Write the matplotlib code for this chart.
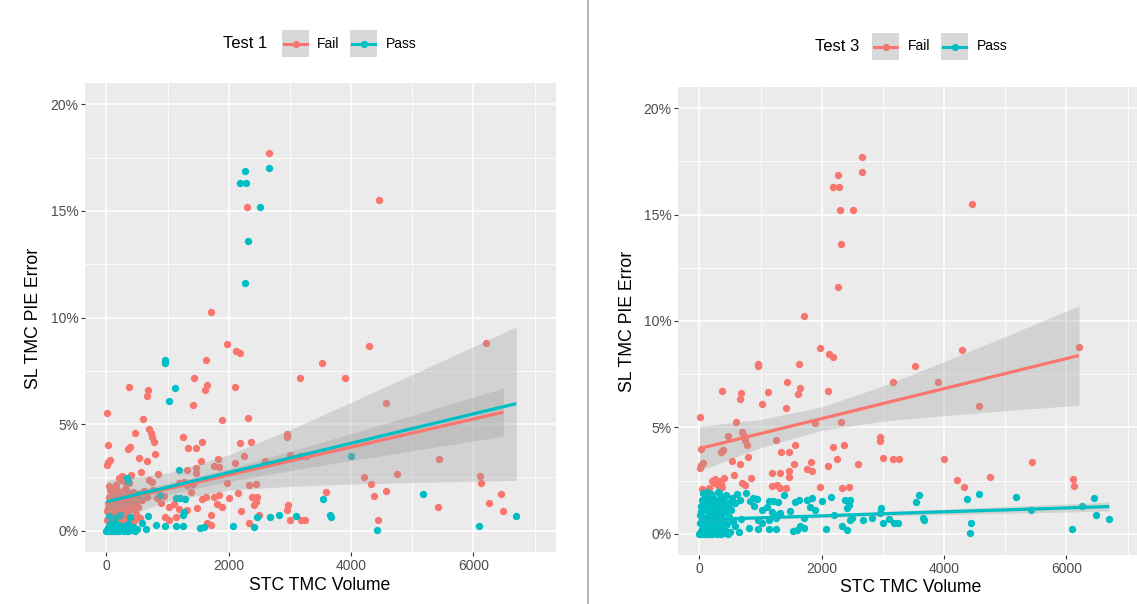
import numpy as np
import matplotlib.pyplot as plt
from matplotlib.lines import Line2D
from matplotlib.patches import Rectangle

plt.rcParams['font.family'] = ['Liberation Sans', 'DejaVu Sans']

W, H = 1137, 604
FAIL = '#F8766D'
PASS = '#00BFC4'
PANEL = '#EBEBEB'
RIBBON = '#999999'
KEY = '#D8D8D8'

# STC TMC volume and SL TMC PIE error (%) per item
volume = [
    2660, 2660, 2270, 2180, 2290, 2300, 2505, 4455, 2310, 2270,
    1705, 1975, 2125, 2190, 965, 955, 1620, 3165, 1440, 375,
    675, 660, 1120, 1640, 1605, 2095, 1025, 1420, 15, 600,
    1890, 2310, 3530, 4285, 3895, 6205, 4570, 690, 725, 465,
    770, 745, 20, 390, 355, 1245, 1570, 1340, 1460, 2180,
    2370, 20, 60, 10, 535, 670, 790, 850, 560, 690,
    740, 1190, 1325, 1460, 1470, 1540, 1825, 1760, 1840, 2100,
    2250, 2590, 2950, 2960, 3000, 3165, 3270, 1180, 1270, 1325,
    1415, 1965, 2330, 2440, 205, 260, 340, 355, 300, 150,
    45, 370, 235, 395, 3995, 4215, 4320, 4755, 5435, 6105,
    6130, 3590, 3545, 3650, 3675, 4380, 4570, 4445, 4420, 5170,
    5425, 6090, 6250, 6445, 6485, 6700, 3240, 669, 680, 650,
    833, 880, 945, 898, 1135, 1210, 1280, 1024, 1105, 1187,
    1268, 1322, 958, 1024, 1131, 1250, 805, 952, 1131, 1250,
    1567, 1621, 1758, 1840, 2003, 1894, 1703, 1529, 1595, 1649,
    1714, 2069, 2330, 2411, 2384, 2465, 2438, 2411, 2465, 2493,
    2672, 2820, 2975, 3000, 3100, 3175, 2960, 1380, 1480, 1800,
    2200, 2150, 760, 560, 590, 0, 10, 20, 30, 42,
    52, 62, 75, 88, 100, 112, 125, 140, 160, 176,
    190, 210, 230, 250, 270, 290, 310, 330, 350, 380,
    410, 440, 470, 505, 5, 15, 25, 35, 45, 55,
    65, 80, 90, 105, 115, 130, 145, 155, 170, 185,
    200, 215, 225, 240, 255, 265, 280, 295, 305, 320,
    335, 345, 360, 375, 390, 405, 420, 435, 450, 460,
    480, 495, 520, 540, 555, 580, 620, 70, 120, 160,
    200, 250, 280, 320, 30, 130, 210, 360, 100, 190,
]
pie_error = [
    17.7, 17.0, 16.85, 16.3, 16.3, 15.2, 15.2, 15.5, 13.6, 11.6,
    10.25, 8.75, 8.45, 8.33, 8.0, 7.88, 8.0, 7.15, 7.15, 6.72,
    6.6, 6.34, 6.67, 6.83, 6.58, 6.72, 6.1, 5.9, 5.5, 5.23,
    5.2, 5.27, 7.87, 8.64, 7.15, 8.8, 6.0, 4.76, 4.6, 4.6,
    4.18, 4.4, 4.0, 3.94, 3.82, 4.41, 4.18, 3.86, 3.86, 4.1,
    4.18, 3.24, 3.32, 3.08, 3.4, 3.27, 3.6, 2.64, 2.77, 2.38,
    2.27, 2.85, 2.85, 2.93, 2.69, 3.27, 3.35, 3.04, 2.97, 3.19,
    3.5, 3.29, 4.54, 4.38, 3.55, 3.5, 3.5, 2.25, 2.3, 2.14,
    2.17, 2.22, 2.14, 2.19, 2.46, 2.57, 2.48, 2.32, 2.3, 2.14,
    2.1, 2.22, 2.38, 2.6, 3.5, 2.53, 2.19, 2.65, 3.35, 2.55,
    2.23, 1.83, 1.5, 0.75, 0.66, 1.62, 1.88, 0.5, 0.02, 1.72,
    1.12, 0.23, 1.28, 1.7, 0.9, 0.7, 0.52, 1.6, 0.7, 0.08,
    1.52, 1.68, 1.62, 1.31, 1.52, 1.52, 1.5, 1.13, 1.25, 1.0,
    0.88, 0.97, 0.66, 0.5, 0.66, 0.75, 0.27, 0.2, 0.2, 0.2,
    1.47, 1.6, 1.6, 1.68, 1.52, 1.13, 0.74, 0.11, 0.19, 0.34,
    0.27, 0.22, 0.34, 0.19, 1.6, 1.6, 1.36, 1.2, 0.66, 0.74,
    0.66, 0.74, 1.2, 0.5, 0.68, 0.52, 0.97, 1.8, 1.05, 1.25,
    0.9, 1.75, 1.9, 1.45, 0.35, 0.0, 0.05, 0.12, 0.0, 0.22,
    0.03, 0.35, 0.0, 0.15, 0.05, 0.3, 0.0, 0.12, 0.0, 0.25,
    0.05, 0.0, 0.15, 0.02, 0.1, 0.0, 0.2, 0.05, 0.0, 0.1,
    0.02, 0.15, 0.0, 0.1, 0.5, 0.9, 1.3, 1.6, 0.7, 1.1,
    1.9, 0.45, 1.4, 0.8, 1.75, 1.2, 0.6, 1.55, 0.95, 1.85,
    0.5, 1.3, 0.75, 1.65, 1.05, 0.4, 1.45, 0.85, 1.95, 1.15,
    0.55, 1.7, 0.9, 1.3, 0.65, 1.55, 1.0, 1.8, 0.45, 1.25,
    0.8, 1.5, 1.1, 1.7, 0.6, 1.45, 1.85, 1.6, 0.35, 1.0,
    1.75, 0.7, 1.2, 1.9, 1.05, 1.95, 0.25, 0.3, 1.25, 1.45,
]
# F = Fail, P = Pass
test1_result = (
    "FPPPPFPFPP" "FFFFPPFFFF" "FFPFFFPFFF" "FFFFFFFFFF" "FFFFFFFFFF"
    "FFFFFFFFFF" "FPFFFFFFFF" "FFFFFFFFFF" "FFFFFFPPFF" "FFFFPFFFFF"
    "FFPPPFFFPP" "FPFFFPFFPP" "FPFFPPPFFF" "PFFFFPPPPP" "FFFFFFFPPF"
    "FPFPFFFFPF" "PPFFPFFFFF" "FFFFPPPPPP" "PPPPPPPPPP" "PPPPPPPPPP"
    "PPPPFFFFPF" "FFFFFFPFFF" "FFPFFFFFFF" "FFFFPFFFFF" "FFFPFFFFFF"
    "FFFFFFPPFF"
)
test3_result = (
    "FFFFFFFFFF" "FFFFFFFFFF" "FFFFFFFFFF" "FFFFFFFFFF" "FFFFFFFFFF"
    "FFFFFFFFFF" "FFFFFFFFFF" "FFFFFFFFFF" "FFFFFFFFFF" "FFFFFFFFFF"
    "FPPPPPPPPP" "PPPPPPPPPP" "PPPPPPPPPP" "PPPPPPPPPP" "PPPPPPPPPP"
    "PPPPPPPPPP" "PPPPPPPPPP" "PPPPPPPPPP" "PPPPPPPPPP" "PPPPPPPPPP"
    "PPPPPPPPPP" "PPPPPPPPPP" "PPPPPPPPPP" "PPPPPPPPPP" "PPPPPPPPPP"
    "PPPPPPPPPP"
)

# lm fits with 95% bands, sampled along each group's volume range
t1_fail_x = [0, 1000, 2000, 3000, 4000, 5000, 6000, 6490]
t1_fail_fit = [1.30, 1.96, 2.61, 3.27, 3.92, 4.58, 5.24, 5.56]
t1_fail_lo = [0.95, 1.70, 2.31, 2.82, 3.29, 3.75, 4.21, 4.43]
t1_fail_hi = [1.65, 2.21, 2.91, 3.72, 4.55, 5.41, 6.27, 6.69]

t1_pass_x = [0, 1000, 2000, 3000, 4000, 5000, 6000, 6700]
t1_pass_fit = [1.35, 2.04, 2.73, 3.41, 4.10, 4.79, 5.48, 5.96]
t1_pass_lo = [0.34, 1.38, 1.90, 2.08, 2.19, 2.26, 2.32, 2.36]
t1_pass_hi = [2.36, 2.70, 3.56, 4.74, 6.02, 7.32, 8.64, 9.56]

t3_fail_x = [0, 1000, 2000, 3000, 4000, 5000, 6205]
t3_fail_fit = [4.00, 4.71, 5.41, 6.12, 6.82, 7.53, 8.38]
t3_fail_lo = [2.95, 4.05, 4.86, 5.29, 5.55, 5.79, 6.04]
t3_fail_hi = [5.05, 5.37, 5.96, 6.95, 8.09, 9.27, 10.72]

t3_pass_x = [0, 1000, 2000, 3000, 4000, 5000, 6000, 6700]
t3_pass_fit = [0.66, 0.75, 0.84, 0.94, 1.03, 1.12, 1.21, 1.28]
t3_pass_lo = [0.57, 0.68, 0.76, 0.84, 0.90, 0.96, 1.02, 1.07]
t3_pass_hi = [0.75, 0.82, 0.92, 1.04, 1.16, 1.28, 1.40, 1.49]

x_ticks = [0, 2000, 4000, 6000]
y_ticks = [0, 5, 10, 15, 20]
y_tick_labels = ['0%', '5%', '10%', '15%', '20%']

vol = np.array(volume)
err = np.array(pie_error)


def fx(x):
    return x / W


def fy(y):
    return 1 - y / H


fig = plt.figure(figsize=(W / 100, H / 100), dpi=100)
ax1 = fig.add_axes([fx(85), fy(552), 471 / W, 469 / H])
ax2 = fig.add_axes([fx(678), fy(555), 471 / W, 468 / H])


def draw_panel(ax, result, fits):
    ax.set_facecolor(PANEL)
    for s in ax.spines.values():
        s.set_visible(False)
    lab = np.array(list(result))
    for code, col in (('F', FAIL), ('P', PASS)):
        m = lab == code
        ax.scatter(vol[m], err[m], s=28, color=col, lw=0, zorder=2)
    for (x, fit, lo, hi), col in zip(fits, (FAIL, PASS)):
        ax.fill_between(x, lo, hi, color=RIBBON, alpha=0.3, lw=0, zorder=3)
        ax.plot(x, fit, color=col, lw=2.3, zorder=4, solid_capstyle='butt')
    ax.set_xlim(-350, 7350)
    ax.set_ylim(-1, 21)
    ax.set_xticks(x_ticks)
    ax.set_xticks([1000, 3000, 5000, 7000], minor=True)
    ax.set_yticks(y_ticks)
    ax.set_yticklabels(y_tick_labels)
    ax.set_yticks([2.5, 7.5, 12.5, 17.5], minor=True)
    ax.set_axisbelow(True)
    ax.grid(which='major', color='white', lw=1.1)
    ax.grid(which='minor', color='white', lw=0.55)
    ax.tick_params(which='major', length=2.7, width=0.8, color='#333333',
                   labelsize=10, labelcolor='#4D4D4D', pad=2)
    ax.tick_params(which='minor', length=0)


draw_panel(ax1, test1_result,
           [(t1_fail_x, t1_fail_fit, t1_fail_lo, t1_fail_hi),
            (t1_pass_x, t1_pass_fit, t1_pass_lo, t1_pass_hi)])
draw_panel(ax2, test3_result,
           [(t3_fail_x, t3_fail_fit, t3_fail_lo, t3_fail_hi),
            (t3_pass_x, t3_pass_fit, t3_pass_lo, t3_pass_hi)])

# axis titles
for xc, yc in ((34, 318), (628, 321)):
    fig.text(fx(xc), fy(yc), 'SL TMC PIE Error', rotation=90, fontsize=12.7,
             ha='center', va='center')
for xc, yc in ((320, 585), (911, 587)):
    fig.text(fx(xc), fy(yc), 'STC TMC Volume', fontsize=12.7,
             ha='center', va='center')


def legend(title, x_title, keys, y_top, y_bot):
    yc = (y_top + y_bot) / 2
    fig.text(fx(x_title), fy(yc), title, fontsize=12, ha='left', va='center')
    for (xk, xl, col, lab) in keys:
        fig.add_artist(Rectangle((fx(xk), fy(y_bot)), 27 / W, (y_bot - y_top) / H,
                                 transform=fig.transFigure, color=KEY, lw=0))
        fig.add_artist(Line2D([fx(xk + 2), fx(xk + 25)], [fy(yc), fy(yc)],
                              transform=fig.transFigure, color=col, lw=2.2))
        fig.add_artist(Line2D([fx(xk + 13.5)], [fy(yc)], transform=fig.transFigure,
                              marker='o', ms=5.2, mew=0, color=col))
        fig.text(fx(xl), fy(yc), lab, fontsize=10, ha='left', va='center')


legend('Test 1', 223, [(282, 317, FAIL, 'Fail'), (350, 386, PASS, 'Pass')], 30, 57)
legend('Test 3', 815, [(872, 908, FAIL, 'Fail'), (941, 977, PASS, 'Pass')], 33, 60)

# separator between the two plots
fig.add_artist(Line2D([fx(587.5), fx(587.5)], [0, 1], transform=fig.transFigure,
                      color='#A8A8A8', lw=1.2))

fig.savefig('out.png', dpi=100)
